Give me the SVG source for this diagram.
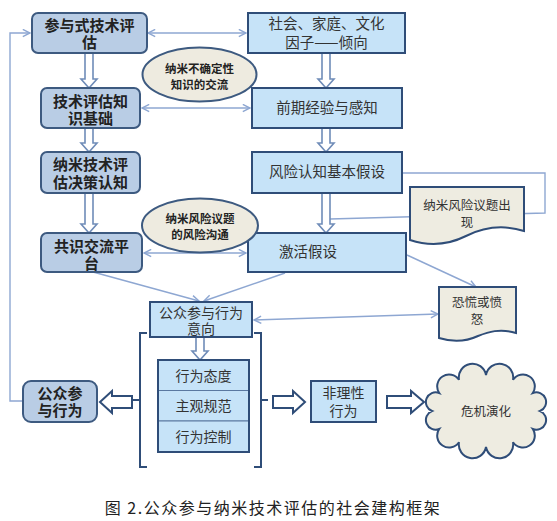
<svg xmlns="http://www.w3.org/2000/svg" width="557" height="521" viewBox="0 0 557 521">
<defs>
<style>
.ln{fill:none;stroke:#8ea7d2;stroke-width:1.4}
.lnode{fill:#b9cde5;stroke:#3d5a80;stroke-width:2}
.rnode{fill:#c6e3f8;stroke:#2f4d78;stroke-width:2}
.ell{fill:#eeebe0;stroke:#3d5a80;stroke-width:2}
.doc{fill:#eeece1;stroke:#2f4d78;stroke-width:2}
.barr{fill:#ffffff;stroke:#6f8cb8;stroke-width:1.6}
.harr{fill:#ffffff;stroke:#2f4d78;stroke-width:2}
.br{fill:none;stroke:#2f4d78;stroke-width:2}
text{font-family:"Noto Sans CJK SC","Noto Sans",sans-serif;text-anchor:middle;fill:#222}
.tl{font-size:15px;font-weight:bold}
.tr{font-size:14.5px;fill:#333}
.te{font-size:11.5px;font-weight:bold}
.td{font-size:12.5px;fill:#333}
.ts{font-size:14px;fill:#333}
</style>
<marker id="ah" viewBox="0 0 10 10" refX="9" refY="5" markerWidth="9" markerHeight="9" markerUnits="userSpaceOnUse" orient="auto-start-reverse">
<path d="M1,1 L9,5 L1,9" fill="none" stroke="#8ea7d2" stroke-width="1.6"/>
</marker>
</defs>

<g id="connectors">
<path class="ln" d="M23,401 H10 V33 H30" marker-end="url(#ah)"/>
<path class="ln" d="M148,33 H246" marker-start="url(#ah)" marker-end="url(#ah)"/>
<path class="ln" d="M142,108 H250" marker-start="url(#ah)" marker-end="url(#ah)"/>
<path class="ln" d="M144,253 H246" marker-start="url(#ah)" marker-end="url(#ah)"/>
<path class="ln" d="M402,173 H545 V213 L330,219"/>
<path class="ln" d="M93,272 L199,301" marker-end="url(#ah)"/>
<path class="ln" d="M285,273 L204,301" marker-end="url(#ah)"/>
<path class="ln" d="M407,255 L476,287" marker-end="url(#ah)"/>
<path class="ln" d="M254,320 L438,314" marker-start="url(#ah)" marker-end="url(#ah)"/>
<polygon class="barr" points="85,53 93,53 93,79 97,79 89,88 81,79 85,79"/>
<polygon class="barr" points="85,128 93,128 93,143 97,143 89,152 81,143 85,143"/>
<polygon class="barr" points="85,193 93,193 93,224 97,224 89,233 81,224 85,224"/>
<polygon class="barr" points="322,53 330,53 330,79 334,79 326,88 318,79 322,79"/>
<polygon class="barr" points="322,128 330,128 330,143 334,143 326,152 318,143 322,143"/>
<polygon class="barr" points="322,193 330,193 330,224 334,224 326,233 318,224 322,224"/>
<polygon class="barr" points="196,337 204,337 204,351 208,351 200,360 192,351 196,351"/>
<polygon class="harr" points="132,396 112,396 112,391 100,402 112,413 112,408 132,408"/>
<polygon class="harr" points="273,396 293,396 293,391 305,402 293,413 293,408 273,408"/>
<polygon class="harr" points="387,396 411,396 411,391 424,402 411,413 411,408 387,408"/>
<path class="br" d="M147,333 H140 V467 H147 M140,400 H133"/>
<path class="br" d="M254,333 H261 V467 H254 M261,400 H268"/>
</g>

<g id="n-canyu">
<rect class="lnode" x="32" y="13" width="115" height="40" rx="6"/>
<text class="tl"><tspan x="89.5" y="31">参与式技术评</tspan><tspan x="89.5" dy="17">估</tspan></text>
</g>
<g id="n-zhishi">
<rect class="lnode" x="41" y="88" width="99" height="40" rx="6"/>
<text class="tl"><tspan x="90.5" y="107">技术评估知</tspan><tspan x="90.5" dy="17">识基础</tspan></text>
</g>
<g id="n-juece">
<rect class="lnode" x="41" y="152" width="99" height="41" rx="6"/>
<text class="tl"><tspan x="90.5" y="170">纳米技术评</tspan><tspan x="90.5" dy="18">估决策认知</tspan></text>
</g>
<g id="n-gongshi">
<rect class="lnode" x="41" y="233" width="101" height="39" rx="6"/>
<text class="tl"><tspan x="91.5" y="252">共识交流平</tspan><tspan x="91.5" dy="17">台</tspan></text>
</g>
<g id="n-xingwei">
<rect class="lnode" x="23" y="381" width="74" height="41" rx="8"/>
<text class="tl"><tspan x="60" y="399">公众参</tspan><tspan x="60" dy="17">与行为</tspan></text>
</g>

<g id="n-shehui">
<rect class="rnode" x="248" y="13" width="157" height="40"/>
<text class="tr"><tspan x="326.5" y="29">社会、家庭、文化</tspan><tspan x="326.5" dy="19">因子——倾向</tspan></text>
</g>
<g id="n-qianqi">
<rect class="rnode" x="252" y="88" width="150" height="40"/>
<text class="tr" x="327" y="113">前期经验与感知</text>
</g>
<g id="n-fengxian">
<rect class="rnode" x="252" y="152" width="150" height="41"/>
<text class="tr" x="327" y="177">风险认知基本假设</text>
</g>
<g id="n-jihuo">
<rect class="rnode" x="248" y="233" width="158" height="39"/>
<text class="tr" x="308" y="257">激活假设</text>
</g>

<g id="n-ell1">
<ellipse class="ell" cx="199.5" cy="74.5" rx="57" ry="27"/>
<text class="te"><tspan x="199.5" y="73">纳米不确定性</tspan><tspan x="199.5" dy="16">知识的交流</tspan></text>
</g>
<g id="n-ell2">
<ellipse class="ell" cx="200" cy="225.5" rx="58" ry="27"/>
<text class="te"><tspan x="200" y="223">纳米风险议题</tspan><tspan x="200" dy="16">的风险沟通</tspan></text>
</g>

<g id="n-yiti">
<path class="doc" d="M410,187 H524 V231 C502,224 482,228 466,236 C448,245 428,246 410,240 Z"/>
<text class="td"><tspan x="467" y="210">纳米风险议题出</tspan><tspan x="467" dy="17">现</tspan></text>
</g>
<g id="n-konghuang">
<path class="doc" d="M439,287 H516 V333 C500,328 488,332 478,336 C465,342 452,342 439,338 Z"/>
<text class="td"><tspan x="477" y="307">恐慌或愤</tspan><tspan x="477" dy="17">怒</tspan></text>
</g>

<g id="n-yixiang">
<rect class="rnode" x="150" y="302" width="102" height="35"/>
<text class="ts"><tspan x="201" y="318">公众参与行为</tspan><tspan x="201" dy="16">意向</tspan></text>
</g>

<g id="n-stack">
<rect x="158" y="360" width="91" height="30.5" fill="#c6e3f8" stroke="#5a78a0" stroke-width="1"/>
<rect x="158" y="390.5" width="91" height="30.5" fill="#c6e3f8" stroke="#5a78a0" stroke-width="1"/>
<rect x="158" y="421" width="91" height="31" fill="#c6e3f8" stroke="#5a78a0" stroke-width="1"/>
<rect x="158" y="360" width="91" height="92" fill="none" stroke="#2f4d78" stroke-width="2"/>
<text class="ts" x="203.5" y="381">行为态度</text>
<text class="ts" x="203.5" y="411">主观规范</text>
<text class="ts" x="203.5" y="442">行为控制</text>
</g>

<g id="n-feili">
<rect class="rnode" x="311" y="381" width="65" height="41"/>
<text class="ts"><tspan x="343.5" y="398">非理性</tspan><tspan x="343.5" dy="18">行为</tspan></text>
</g>

<g id="n-weiji">
<path d="M540,411 A1 1 0 0 1 532.8,429 A1 1 0 0 1 513,442.2 A1 1 0 0 1 486,447 A1 1 0 0 1 459,442.2 A1 1 0 0 1 439.2,429 A1 1 0 0 1 432,411 A1 1 0 0 1 439.2,393 A1 1 0 0 1 459,379.8 A1 1 0 0 1 486,375 A1 1 0 0 1 513,379.8 A1 1 0 0 1 532.8,393 A1 1 0 0 1 540,411 Z" fill="#eeece1" stroke="#2f4d78" stroke-width="2"/>
<text class="td" x="486" y="416">危机演化</text>
</g>

<g id="caption">
<text x="273" y="514" style="font-size:16px;fill:#222;letter-spacing:1.5px;font-family:'Noto Sans CJK SC','Noto Sans',sans-serif">图 2.公众参与纳米技术评估的社会建构框架</text>
</g>
</svg>
